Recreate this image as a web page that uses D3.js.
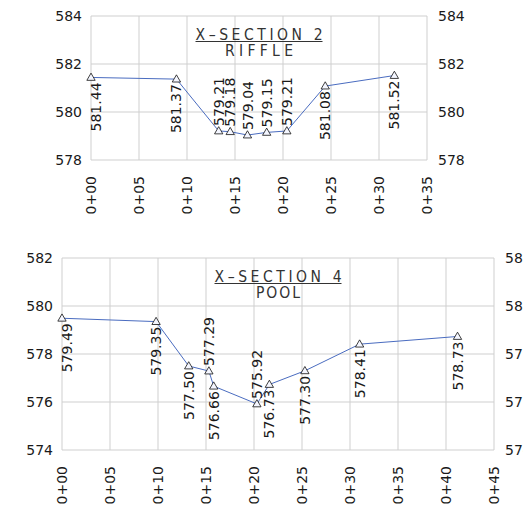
<!DOCTYPE html>
<html lang="en">
<head>
    <meta charset="UTF-8">
    <title>Cross sections</title>
    <script src="https://d3js.org/d3.v7.min.js"></script>
    <style>
        body { margin: 0; background: white; }
        svg { display: block; }
        .grid line { stroke: #cfcfcf; stroke-width: 1; }
        .tick-label { font-family: "DejaVu Sans", sans-serif; font-size: 14px; fill: #1a1a1a; }
        .title { font-family: "DejaVu Sans Condensed", "Liberation Sans Narrow", "Liberation Sans", sans-serif; font-size: 15.5px; font-weight: 300; fill: #333; }
        .profile { fill: none; stroke: #4a6cc0; stroke-width: 1; }
        .marker { fill: #f4f6ff; stroke: #111; stroke-width: 0.8; }
    </style>
</head>
<body>
<svg id="chart" width="523" height="517"></svg>
<script>
// X-Section 2 (riffle)
const xs2Station = [0, 8.9, 13.3, 14.5, 16.3, 18.3, 20.4, 24.4, 31.6];
const xs2Elev = [581.44, 581.37, 579.21, 579.18, 579.04, 579.15, 579.21, 581.08, 581.52];
const xs2Side = ["below", "below", "above", "above", "above", "above", "above", "below", "below"];
const xs2YTicks = [578, 580, 582, 584];
const xs2XTicks = [0, 5, 10, 15, 20, 25, 30, 35];

// X-Section 4 (pool)
const xs4Station = [0, 9.8, 13.2, 15.3, 15.8, 20.3, 21.6, 25.3, 31.0, 41.2];
const xs4Elev = [579.49, 579.35, 577.50, 577.29, 576.66, 575.92, 576.73, 577.30, 578.41, 578.73];
const xs4Side = ["below", "below", "below", "above", "below", "above", "below", "below", "below", "below"];
const xs4YTicks = [574, 576, 578, 580, 582];
const xs4XTicks = [0, 5, 10, 15, 20, 25, 30, 35, 40, 45];

const svg = d3.select("#chart");

function stationFmt(d) {
    return "0+" + String(d).padStart(2, "0");
}

function drawSection(opt) {
    const x = d3.scaleLinear().domain([opt.xTicks[0], opt.xTicks[opt.xTicks.length - 1]]).range([opt.left, opt.right]);
    const y = d3.scaleLinear().domain([opt.yTicks[0], opt.yTicks[opt.yTicks.length - 1]]).range([opt.bottom, opt.top]);
    const g = svg.append("g");

    const grid = g.append("g").attr("class", "grid");
    grid.selectAll(".h").data(opt.yTicks).enter().append("line")
        .attr("x1", opt.left).attr("x2", opt.right)
        .attr("y1", d => y(d)).attr("y2", d => y(d));
    grid.selectAll(".v").data(opt.xTicks).enter().append("line")
        .attr("y1", opt.top).attr("y2", opt.bottom)
        .attr("x1", d => x(d)).attr("x2", d => x(d));

    // y labels, both sides (right ones run off the page like the original)
    g.selectAll(".yl").data(opt.yTicks).enter().append("text")
        .attr("class", "tick-label")
        .attr("x", opt.left - 9).attr("y", d => y(d)).attr("dy", "0.36em")
        .attr("text-anchor", "end").text(d => d);
    g.selectAll(".yr").data(opt.yTicks).enter().append("text")
        .attr("class", "tick-label")
        .attr("x", opt.right + 11).attr("y", d => y(d)).attr("dy", "0.36em")
        .text(d => d);

    // station labels
    g.selectAll(".xl").data(opt.xTicks).enter().append("text")
        .attr("class", "tick-label")
        .attr("transform", d => `translate(${x(d)},${opt.bottom + 16}) rotate(-90)`)
        .attr("dy", "0.36em").attr("text-anchor", "end")
        .text(stationFmt);

    // title block
    const cx = (opt.left + opt.right) / 2;
    g.append("text").attr("class", "title")
        .attr("x", cx).attr("y", opt.top + 23.5).attr("text-anchor", "middle")
        .attr("textLength", opt.titleW).attr("lengthAdjust", "spacing")
        .text(opt.title);
    g.append("line")
        .attr("x1", cx - opt.titleW / 2).attr("x2", cx + opt.titleW / 2)
        .attr("y1", opt.top + 25.5).attr("y2", opt.top + 25.5)
        .attr("stroke", "#333").attr("stroke-width", 1);
    g.append("text").attr("class", "title")
        .attr("x", cx).attr("y", opt.top + 40).attr("text-anchor", "middle")
        .attr("textLength", opt.subW).attr("lengthAdjust", "spacing")
        .text(opt.sub);

    const pts = opt.station.map((s, i) => [s, opt.elev[i]]);
    g.append("path").attr("class", "profile")
        .attr("d", d3.line().x(d => x(d[0])).y(d => y(d[1]))(pts));

    g.selectAll(".mk").data(pts).enter().append("path")
        .attr("class", "marker")
        .attr("transform", d => `translate(${x(d[0])},${y(d[1]) + 0.5})`)
        .attr("d", d3.symbol().type(d3.symbolTriangle).size(30));

    g.selectAll(".dl").data(pts).enter().append("text")
        .attr("class", "tick-label")
        .attr("transform", (d, i) => {
            const px = Math.max(x(d[0]), opt.left + 5);
            const py = y(d[1]) + (opt.side[i] === "below" ? 5 : -5);
            return `translate(${px},${py}) rotate(-90)`;
        })
        .attr("dy", "0.36em")
        .attr("text-anchor", (d, i) => opt.side[i] === "below" ? "end" : "start")
        .text(d => d[1].toFixed(2));
}

drawSection({
    left: 91, right: 427, top: 16, bottom: 160,
    xTicks: xs2XTicks, yTicks: xs2YTicks,
    station: xs2Station, elev: xs2Elev, side: xs2Side,
    title: "X\u2013SECTION 2", sub: "RIFFLE", titleW: 127, subW: 68
});

drawSection({
    left: 62, right: 494, top: 258, bottom: 450,
    xTicks: xs4XTicks, yTicks: xs4YTicks,
    station: xs4Station, elev: xs4Elev, side: xs4Side,
    title: "X\u2013SECTION 4", sub: "POOL", titleW: 127, subW: 44
});
</script>
</body>
</html>
